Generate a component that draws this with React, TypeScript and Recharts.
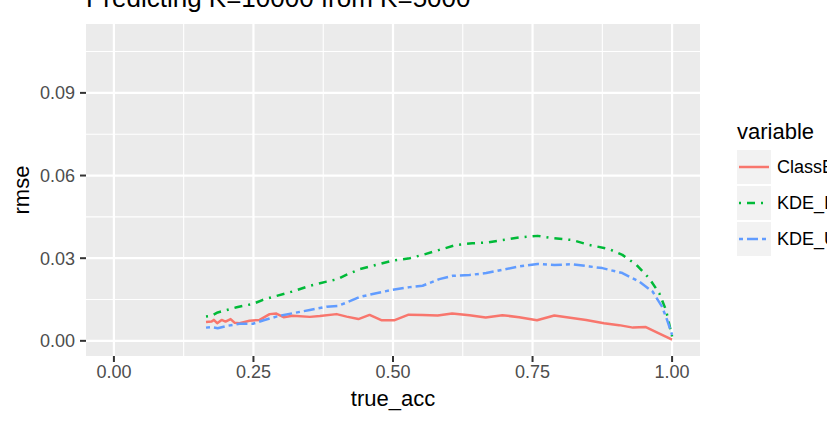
import React from 'react';
import { LineChart, Line, XAxis, YAxis, CartesianGrid } from 'recharts';

const FONT = '"Liberation Sans", Arial, Helvetica, sans-serif';

const xTicks = [0, 0.25, 0.5, 0.75, 1];
const xMinor = [0.125, 0.375, 0.625, 0.875];
const yTicks = [0, 0.03, 0.06, 0.09];
const yMinor = [0.015, 0.045, 0.075, 0.105];

const seriesNames = ['ClassBased', 'KDE_Informed', 'KDE_Uniform'];
const seriesColors = ['#F8766D', '#00BA38', '#619CFF'];
const seriesDash = ['0', '2 6 8 6', '4 4 11 4'];

const classX = [0.165, 0.175, 0.179, 0.185, 0.193, 0.2, 0.209, 0.216, 0.225, 0.243, 0.261, 0.279, 0.291, 0.304, 0.32, 0.351, 0.369, 0.399, 0.417, 0.438, 0.458, 0.479, 0.503, 0.528, 0.553, 0.58, 0.606, 0.637, 0.666, 0.696, 0.726, 0.758, 0.789, 0.846, 0.878, 0.905, 0.93, 0.953, 0.982, 1.0];
const classY = [0.0068, 0.007, 0.0076, 0.0064, 0.0076, 0.007, 0.0079, 0.0066, 0.0064, 0.0073, 0.0076, 0.0097, 0.0099, 0.0086, 0.0091, 0.0087, 0.009, 0.0097, 0.0088, 0.0079, 0.0094, 0.0075, 0.0075, 0.0095, 0.0094, 0.0092, 0.0099, 0.0093, 0.0085, 0.0093, 0.0086, 0.0075, 0.0092, 0.0076, 0.0064, 0.0057, 0.0048, 0.005, 0.0022, 0.0004];

const kdeIX = [0.165, 0.175, 0.186, 0.202, 0.22, 0.249, 0.267, 0.291, 0.32, 0.351, 0.381, 0.401, 0.417, 0.44, 0.47, 0.499, 0.53, 0.553, 0.583, 0.613, 0.642, 0.669, 0.696, 0.726, 0.759, 0.789, 0.821, 0.852, 0.887, 0.911, 0.936, 0.959, 0.977, 0.989, 1.0];
const kdeIY = [0.0088, 0.0091, 0.0103, 0.0112, 0.0122, 0.0134, 0.0149, 0.0163, 0.0179, 0.02, 0.0215, 0.0224, 0.024, 0.026, 0.0276, 0.0291, 0.03, 0.0312, 0.033, 0.0348, 0.0354, 0.0357, 0.0366, 0.0375, 0.0381, 0.0372, 0.0366, 0.0348, 0.0333, 0.0312, 0.0276, 0.0227, 0.0173, 0.0112, 0.0016];

const kdeUX = [0.165, 0.175, 0.186, 0.202, 0.225, 0.249, 0.267, 0.291, 0.32, 0.351, 0.381, 0.401, 0.417, 0.44, 0.47, 0.499, 0.53, 0.553, 0.583, 0.607, 0.637, 0.667, 0.696, 0.726, 0.759, 0.789, 0.821, 0.852, 0.875, 0.911, 0.941, 0.965, 0.982, 0.991, 1.0];
const kdeUY = [0.0048, 0.005, 0.0046, 0.0054, 0.0062, 0.0062, 0.0074, 0.0088, 0.01, 0.0112, 0.0124, 0.0127, 0.0139, 0.0159, 0.0173, 0.0185, 0.0195, 0.02, 0.0224, 0.0236, 0.0239, 0.0246, 0.0258, 0.027, 0.0279, 0.0275, 0.0278, 0.027, 0.0264, 0.0246, 0.0215, 0.0179, 0.0124, 0.0076, 0.0022];

const toPoints = (xs: number[], ys: number[]) => xs.map((x, i) => ({ x, y: ys[i] }));
const seriesData = [toPoints(classX, classY), toPoints(kdeIX, kdeIY), toPoints(kdeUX, kdeUY)];

const W = 827;
const H = 424;
const PANEL = { left: 86, top: 24, right: 700, bottom: 356 };

const tickStyle = { fill: '#4D4D4D', fontSize: 18, fontFamily: FONT };

const App: React.FC = () => {
  return (
    <div style={{ position: 'absolute', left: 0, top: 0, width: W, height: H, overflow: 'hidden', background: '#fff' }}>
      <LineChart
        width={W}
        height={H}
        margin={{ top: PANEL.top, right: W - PANEL.right, bottom: 0, left: 0 }}
      >
        <CartesianGrid
          fill="#EBEBEB"
          stroke="#FFFFFF"
          strokeWidth={1.1}
          horizontalValues={yMinor}
          verticalValues={xMinor}
        />
        <CartesianGrid
          stroke="#FFFFFF"
          strokeWidth={2.2}
          horizontalValues={yTicks}
          verticalValues={xTicks}
        />
        <XAxis
          type="number"
          dataKey="x"
          domain={[-0.05, 1.05]}
          ticks={xTicks}
          allowDataOverflow
          tickFormatter={(v: number) => v.toFixed(2)}
          axisLine={false}
          tickLine={{ stroke: '#333333', strokeWidth: 2 }}
          tickSize={6}
          tickMargin={3}
          tick={tickStyle}
          height={H - PANEL.bottom}
        />
        <YAxis
          type="number"
          dataKey="y"
          domain={[-0.0055, 0.115]}
          ticks={yTicks}
          allowDataOverflow
          tickFormatter={(v: number) => v.toFixed(2)}
          axisLine={false}
          tickLine={{ stroke: '#333333', strokeWidth: 2 }}
          tickSize={6}
          tickMargin={5}
          tick={tickStyle}
          width={PANEL.left}
        />
        {seriesData.map((d, i) => (
          <Line
            key={seriesNames[i]}
            data={d}
            dataKey="y"
            name={seriesNames[i]}
            type="linear"
            stroke={seriesColors[i]}
            strokeWidth={2.5}
            strokeDasharray={seriesDash[i]}
            strokeLinejoin="round"
            dot={false}
            activeDot={false}
            isAnimationActive={false}
          />
        ))}
      </LineChart>
      <svg
        width={W}
        height={H}
        style={{ position: 'absolute', left: 0, top: 0, pointerEvents: 'none', fontFamily: FONT }}
      >
        <text x={PANEL.left} y={7} fontSize={26} fill="#000">Predicting K=10000 from K=5000</text>
        <text x={(PANEL.left + PANEL.right) / 2} y={406} fontSize={22} textAnchor="middle" fill="#000">true_acc</text>
        <text
          x={29}
          y={(PANEL.top + PANEL.bottom) / 2}
          fontSize={22}
          textAnchor="middle"
          fill="#000"
          transform={`rotate(-90 29 ${(PANEL.top + PANEL.bottom) / 2})`}
        >
          rmse
        </text>
        <text x={737} y={139} fontSize={22} fill="#000">variable</text>
        {seriesNames.map((n, i) => {
          const top = 150 + i * 36;
          const cy = top + 17;
          return (
            <g key={n}>
              <rect x={737} y={top} width={34} height={34} fill="#F2F2F2" />
              <line
                x1={739}
                x2={769}
                y1={cy}
                y2={cy}
                stroke={seriesColors[i]}
                strokeWidth={2.5}
                strokeDasharray={seriesDash[i]}
              />
              <text x={777} y={cy + 6} fontSize={18} fill="#000">{n}</text>
            </g>
          );
        })}
      </svg>
    </div>
  );
};

export default App;
